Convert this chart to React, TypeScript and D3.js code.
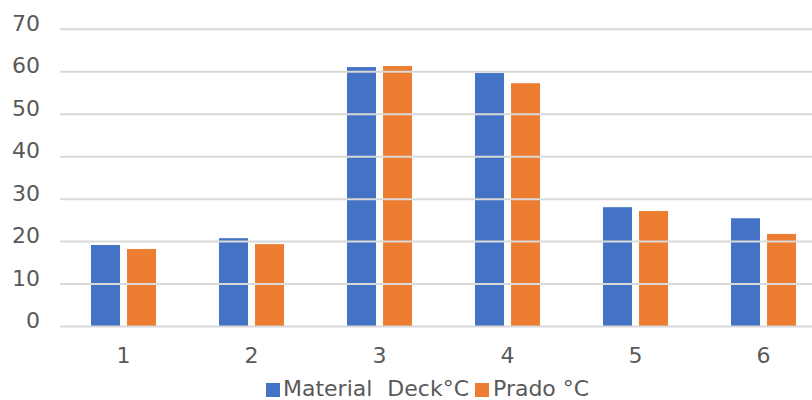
import React from "react";
import * as d3 from "d3";

const categories = ["1", "2", "3", "4", "5", "6"];
const materialDeck = [19.2, 20.8, 61.1, 59.7, 28.1, 25.5];
const prado = [18.25, 19.4, 61.35, 57.3, 27.2, 21.8];
const yTicks = [0, 10, 20, 30, 40, 50, 60, 70];
const seriesNames = ["Material Deck°C", "Prado °C"];
const colors = ["#4472C4", "#ED7D31"];

export default function App() {
  const W = 812, H = 400;
  const y = d3.scaleLinear().domain([0, 70]).range([326.5, 29.3]);
  const x = d3.scaleBand<string>().domain(categories).range([59.5, 827.5]).padding(0);
  const inner = d3.scaleBand<number>().domain([0, 1]).range([0, 65]).paddingInner(7 / 36).paddingOuter(0);
  const series = [materialDeck, prado];
  const font = "'DejaVu Sans', Verdana, sans-serif";
  return (
    <svg width={W} height={H} style={{ position: "absolute", left: 0, top: 0, background: "#fff" }} fontFamily={font}>
      <rect width={W} height={H} fill="#fff" />
      {series.map((vals, si) =>
        vals.map((v, i) => {
          const cx = (x(categories[i]) as number) + x.bandwidth() / 2;
          const bx = cx - 32.5 + (inner(si) as number);
          return (
            <rect key={`${si}-${i}`} x={bx} y={y(v)} width={inner.bandwidth()} height={y(0) - y(v)} fill={colors[si]} />
          );
        })
      )}
      {yTicks.map((t) => (
        <g key={t}>
          <line x1={60} x2={W} y1={y(t)} y2={y(t)} stroke="#D9D9D9" strokeWidth={2} />
          <text x={40} y={y(t) + 1.5} textAnchor="end" fontSize={22} fill="#595959">{t}</text>
        </g>
      ))}
      {categories.map((c) => (
        <text key={c} x={(x(c) as number) + x.bandwidth() / 2} y={362.5} textAnchor="middle" fontSize={22} fill="#595959">{c}</text>
      ))}
      <rect x={266} y={383} width={14} height={14} fill={colors[0]} />
      <text x={283} y={396} fontSize={22} fill="#595959" wordSpacing={8}>{seriesNames[0]}</text>
      <rect x={475} y={383} width={14} height={14} fill={colors[1]} />
      <text x={493} y={396} fontSize={22} fill="#595959">{seriesNames[1]}</text>
    </svg>
  );
}
